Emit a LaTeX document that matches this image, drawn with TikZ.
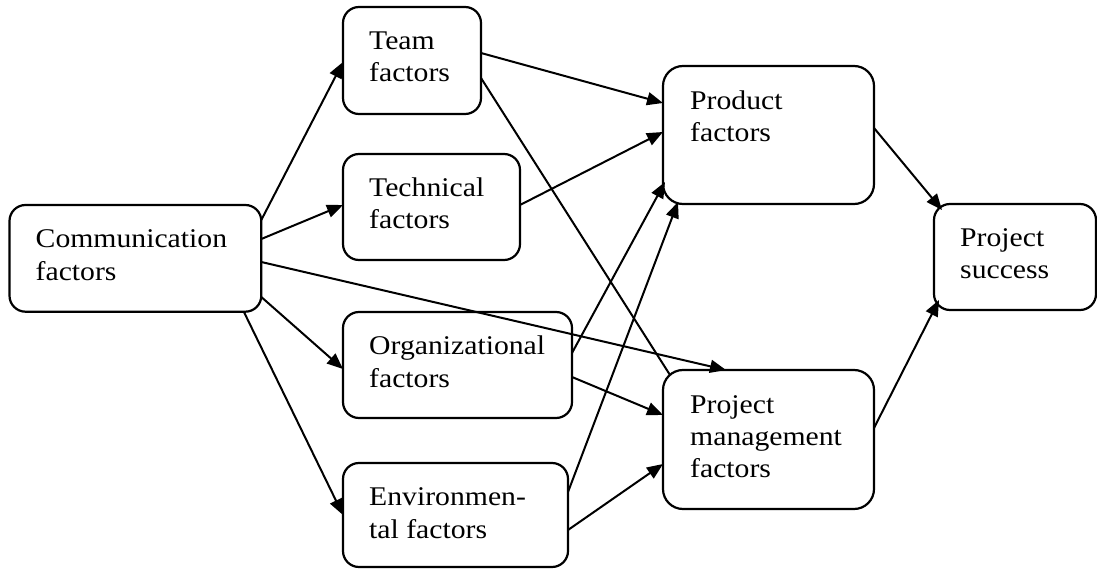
\documentclass[tikz,border=0pt]{standalone}
\usepackage{fontspec}
\setmainfont[FakeStretch=1.1]{Liberation Serif}
\usetikzlibrary{arrows.meta,calc}

\tikzset{
  box/.style={draw=black, line width=2.2pt, rounded corners=16pt, outer sep=0pt,
              inner sep=0pt, anchor=north west, fill=white},
  bigbox/.style={box, rounded corners=20pt},
  lbl/.style={anchor=north west, inner sep=0pt, align=left,
              font=\fontsize{27}{32.3}\selectfont},
  link/.style={line width=2pt, -{Triangle[length=16pt,width=13pt]}},
  plain/.style={line width=2pt},
}
\newcommand{\tallstrut}{\rule{0pt}{20pt}}

\begin{document}
\begin{tikzpicture}[x=1pt,y=-1pt]
\useasboundingbox (0,0) rectangle (1097,569);

% boxes
\node[box, minimum width=251.8pt, minimum height=106.7pt] (comm) at (9.5,205) {};
\node[box, minimum width=138pt, minimum height=107pt] (team) at (343,7) {};
\node[box, minimum width=177pt, minimum height=106pt] (tech) at (343,154) {};
\node[box, minimum width=229pt, minimum height=106pt] (org) at (343,312) {};
\node[box, minimum width=225pt, minimum height=104pt] (env) at (343,463) {};
\node[bigbox, minimum width=211pt, minimum height=138pt] (prod) at (663,66) {};
\node[bigbox, minimum width=211pt, minimum height=139pt] (pm) at (663,370) {};
\node[box, minimum width=162pt, minimum height=106pt] (ps) at (934,204) {};

% labels
\node[lbl] (commtxt) at (35.5,227.5) {\tallstrut Communication\\factors};
\node[lbl] (teamtxt) at (369,29.5) {\tallstrut Team\\factors};
\node[lbl] (techtxt) at (369,176.5) {\tallstrut Technical\\factors};
\node[lbl] (orgtxt) at (369,334.5) {\tallstrut Organizational\\factors};
\node[lbl] (envtxt) at (369,485.5) {\tallstrut Environmen-\\tal factors};
\node[lbl] (prodtxt) at (690,89.5) {\tallstrut Product\\factors};
\node[lbl] (pmtxt) at (690,393) {\tallstrut Project\\management\\factors};
\node[lbl] (pstxt) at (960,226.5) {\tallstrut Project\\success};

% connectors
\draw[link] ([yshift=-15pt]comm.north east) -- ([yshift=-55pt]team.north west);
\draw[link] ([yshift=-34pt]comm.north east) -- ([yshift=-51pt]tech.north west);
\draw[link] ([yshift=-57pt]comm.north east) -- ([xshift=63pt]pm.north west);
\draw[link] ([yshift=-92pt]comm.north east) -- ([yshift=-57pt]org.north west);
\draw[link] ([xshift=-17.5pt]comm.south east) -- ([yshift=-52pt]env.north west);

\draw[link] ([yshift=-46pt]team.north east) -- ([yshift=-37pt]prod.north west);
\draw[plain] ([yshift=-71pt]team.north east) -- ([xshift=7pt,yshift=-5pt]pm.north west);
\draw[link] ([yshift=-51pt]tech.north east) -- ([yshift=-66pt]prod.north west);
\draw[link] ([yshift=-41pt]org.north east) -- ([xshift=2pt,yshift=22pt]prod.south west);
\draw[link] ([yshift=-65pt]org.north east) -- ([yshift=-45pt]pm.north west);
\draw[link] ([yshift=-29pt]env.north east) -- ([xshift=15pt,yshift=2pt]prod.south west);
\draw[link] ([yshift=-67pt]env.north east) -- ([yshift=-94pt]pm.north west);

\draw[link] ([yshift=-62pt]prod.north east) -- ([xshift=8pt,yshift=-6pt]ps.north west);
\draw[link] ([yshift=-58pt]pm.north east) -- ([xshift=5pt,yshift=10pt]ps.south west);
\end{tikzpicture}
\end{document}
